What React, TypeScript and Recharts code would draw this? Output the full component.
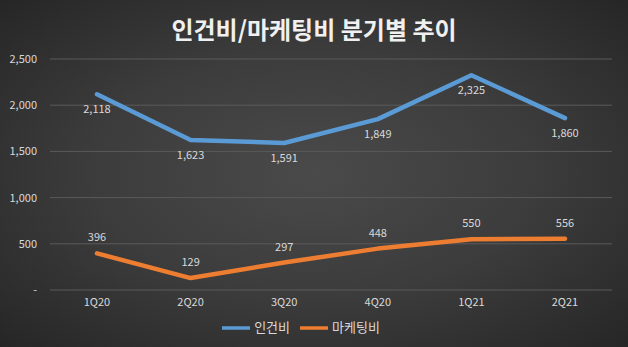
import { LineChart, Line, XAxis, YAxis, CartesianGrid, Legend, LabelList } from 'recharts'

const quarters = ['1Q20', '2Q20', '3Q20', '4Q20', '1Q21', '2Q21']
const labor = [2118, 1623, 1591, 1849, 2325, 1860]
const marketing = [396, 129, 297, 448, 550, 556]
const yTicks = [0, 500, 1000, 1500, 2000, 2500]
const seriesOrder = ['인건비', '마케팅비']

const data = quarters.map((q, i) => ({ q, 인건비: labor[i], 마케팅비: marketing[i] }))

const FONT = '"Noto Sans CJK KR", "Noto Sans", sans-serif'
const fmt = (v: number) => (v === 0 ? '-' : v.toLocaleString('en-US'))

export default function App() {
  return (
    <div
      style={{
        position: 'absolute',
        left: 0,
        top: 0,
        width: 628,
        height: 347,
        background: 'radial-gradient(ellipse at center, #4a4a4a 0%, #3c3c3c 50%, #262626 100%)',
        fontFamily: FONT,
      }}
    >
      <div
        style={{
          position: 'absolute',
          top: 11,
          left: 0,
          width: 628,
          textAlign: 'center',
          color: '#f0f0f0',
          fontSize: 24,
          fontWeight: 700,
          lineHeight: '36px',
        }}
      >
        인건비/마케팅비 분기별 추이
      </div>
      <LineChart width={628} height={347} data={data} margin={{ top: 59, right: 16, left: 0, bottom: 5 }}>
        <CartesianGrid vertical={false} stroke="#5a5a5a" />
        <XAxis
          dataKey="q"
          axisLine={false}
          tickLine={false}
          tickSize={0}
          tickMargin={8}
          height={24}
          padding={{ left: 47, right: 47 }}
          tick={{ fill: '#d9d9d9', fontSize: 11, fontFamily: FONT }}
        />
        <YAxis
          domain={[0, 2500]}
          ticks={yTicks}
          tickFormatter={fmt}
          axisLine={false}
          tickLine={false}
          tickSize={0}
          tickMargin={13}
          width={50}
          tick={{ fill: '#d9d9d9', fontSize: 11, fontFamily: FONT }}
        />
        <Legend
          verticalAlign="bottom"
          iconType="plainline"
          iconSize={28}
          itemSorter={(item: { value: string }) => seriesOrder.indexOf(item.value)}
          wrapperStyle={{ fontSize: 13, fontFamily: FONT }}
          formatter={(value: string) => <span style={{ color: '#d9d9d9' }}>{value}</span>}
        />
        <Line
          type="linear"
          dataKey="인건비"
          stroke="#5b9bd5"
          strokeWidth={4.5}
          strokeLinejoin="round"
          strokeLinecap="round"
          dot={false}
          isAnimationActive={false}
        >
          <LabelList
            dataKey="인건비"
            position="bottom"
            offset={11}
            formatter={(v: number) => fmt(v)}
            style={{ fill: '#d9d9d9', fontSize: 11, fontFamily: FONT }}
          />
        </Line>
        <Line
          type="linear"
          dataKey="마케팅비"
          stroke="#ed7d31"
          strokeWidth={4.5}
          strokeLinejoin="round"
          strokeLinecap="round"
          dot={false}
          isAnimationActive={false}
        >
          <LabelList
            dataKey="마케팅비"
            position="top"
            offset={12}
            formatter={(v: number) => fmt(v)}
            style={{ fill: '#d9d9d9', fontSize: 11, fontFamily: FONT }}
          />
        </Line>
      </LineChart>
    </div>
  )
}
